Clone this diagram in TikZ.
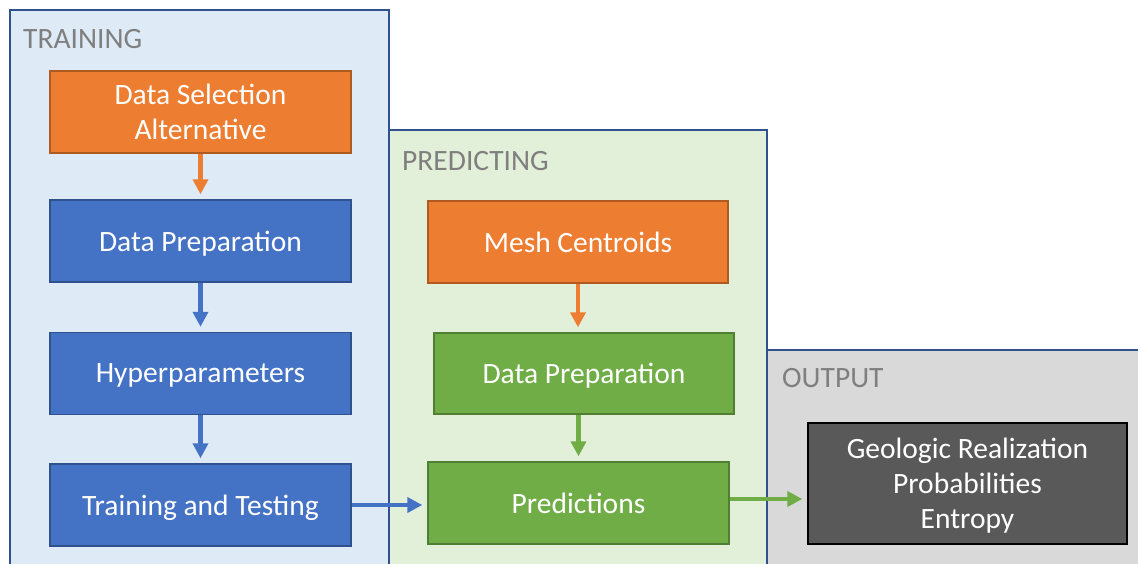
\documentclass[tikz,border=0pt]{standalone}
\usepackage{fontspec}
\setmainfont{Carlito}
\usetikzlibrary{arrows.meta}
\definecolor{orfill}{HTML}{ED7D31}
\definecolor{ordraw}{HTML}{AE5A21}
\definecolor{blfill}{HTML}{4472C4}
\definecolor{bldraw}{HTML}{2F528F}
\definecolor{grfill}{HTML}{70AD47}
\definecolor{grdraw}{HTML}{507E32}
\definecolor{dkfill}{HTML}{595959}
\definecolor{trainbg}{HTML}{DEEBF7}
\definecolor{predbg}{HTML}{E2F0D9}
\definecolor{outbg}{HTML}{D9D9D9}
\definecolor{paneltext}{HTML}{7F7F7F}
\tikzset{
  panel/.style={draw=bldraw, line width=1.8pt},
  paneltitle/.style={anchor=base west, inner sep=0pt, text=paneltext,
    font=\fontsize{29.5}{35}\selectfont},
  box/.style={minimum width=301pt, minimum height=82pt, inner sep=0pt,
    align=center, text=white, line width=1.4pt, text depth=0pt,
    font=\fontsize{29.5}{35}\selectfont},
  orbox/.style={box, fill=orfill, draw=ordraw},
  blbox/.style={box, fill=blfill, draw=bldraw},
  grbox/.style={box, fill=grfill, draw=grdraw},
  dkbox/.style={box, fill=dkfill, draw=black},
  flow/.style={line width=4.5pt, shorten >=5pt,
    -{Triangle[length=15pt,width=15pt]}},
}
\begin{document}
\begin{tikzpicture}[x=1pt,y=-1pt]
\useasboundingbox (0,0) rectangle (1138,563);
\clip (0,0) rectangle (1138,563);

% stage panels
\draw[panel, fill=trainbg] (10,10) rectangle (389,575);
\draw[panel, fill=predbg] (389,130) rectangle (767,575);
\draw[panel, fill=outbg] (767,350) rectangle (1150,575);

\node[paneltitle] (ttrain) at (23,48) {TRAINING};
\node[paneltitle] (tpred) at (402,170) {PREDICTING};
\node[paneltitle] (tout) at (782,387) {OUTPUT};

% training steps
\node[orbox] (dsa) at (200.5,112) {Data Selection\\Alternative};
\node[blbox] (dp1) at (200.5,241) {Data Preparation};
\node[blbox] (hyp) at (200.5,373.5) {Hyperparameters};
\node[blbox] (tt) at (200.5,505) {Training and Testing};

% predicting steps
\node[orbox, minimum width=300pt] (mesh) at (578,242) {Mesh Centroids};
\node[grbox, minimum width=300pt, minimum height=81pt] (dp2) at (584,373.5) {Data Preparation};
\node[grbox] (pred) at (578.5,503) {Predictions};

% output
\node[dkbox, minimum width=319pt, minimum height=121pt] (geo) at (967.5,483.5)
  {Geologic Realization\\Probabilities\\Entropy};

% connectors
\draw[flow, orfill] (dsa.south) -- (dp1.north);
\draw[flow, blfill] (dp1.south) -- (hyp.north);
\draw[flow, blfill] (hyp.south) -- (tt.north);
\draw[flow, blfill] (tt.east) -- (tt.east -| pred.west);
\draw[flow, orfill] (mesh.south) -- (mesh.south |- dp2.north);
\draw[flow, grfill] (dp2.south -| pred.north) -- (pred.north);
\draw[flow, grfill] ([yshift=4pt]pred.east) -- ([yshift=4pt]pred.east -| geo.west);
\end{tikzpicture}
\end{document}
